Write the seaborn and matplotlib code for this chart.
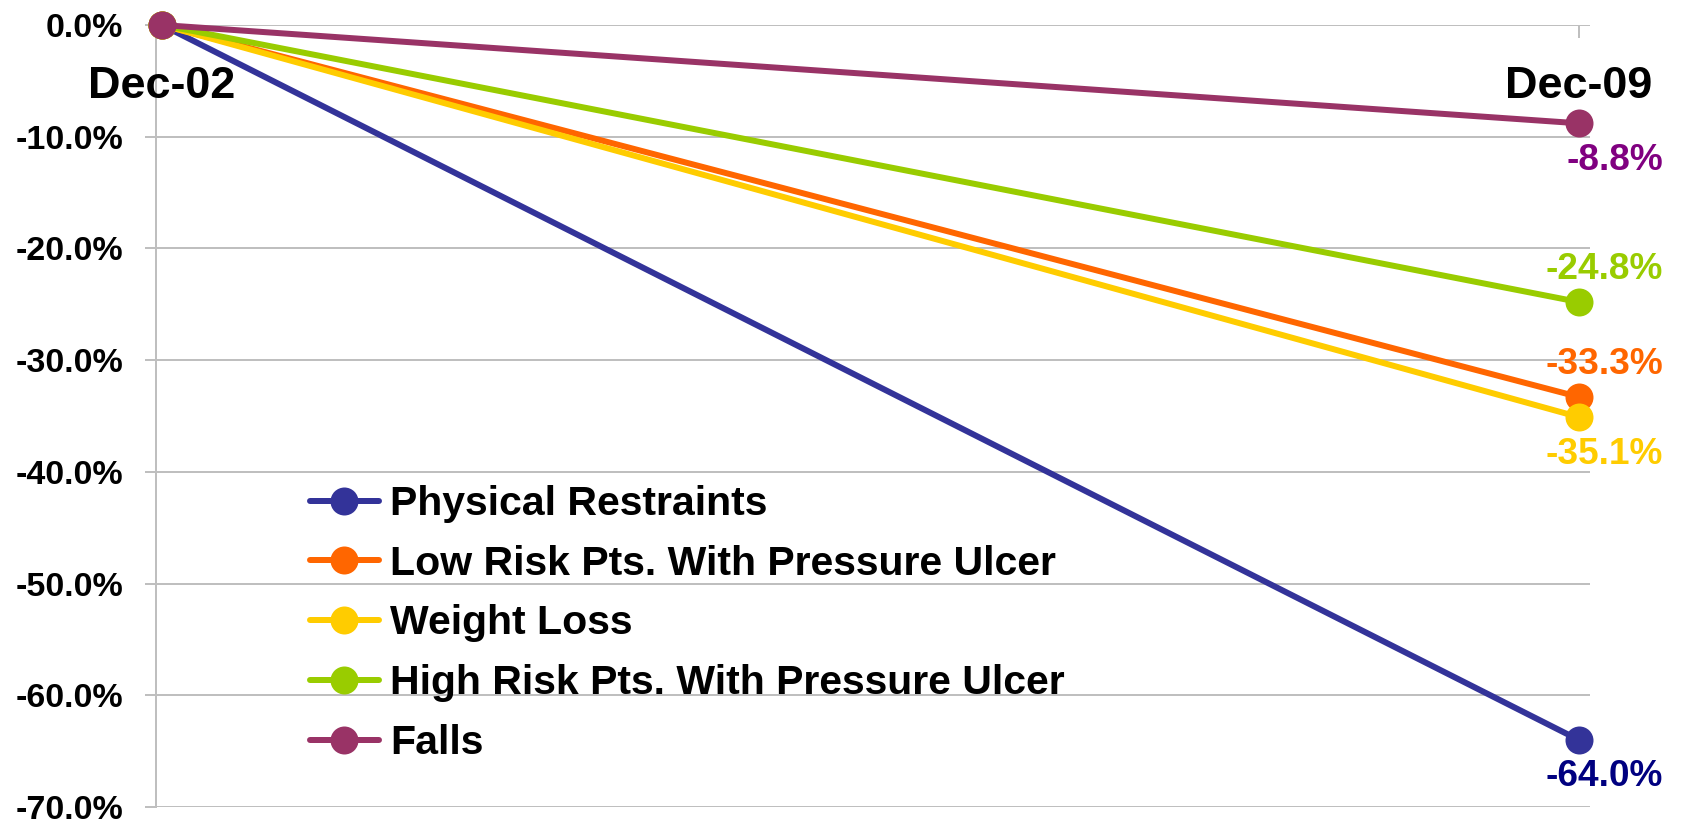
import matplotlib
matplotlib.use("Agg")
import matplotlib.pyplot as plt
from matplotlib.lines import Line2D
import seaborn as sns
import pandas as pd

# Data: percent change in quality indicators between the two survey dates
periods = ["Dec-02", "Dec-09"]
series_names = [
    "Physical Restraints",
    "Low Risk Pts. With Pressure Ulcer",
    "Weight Loss",
    "High Risk Pts. With Pressure Ulcer",
    "Falls",
]
start_values = [0.0, 0.0, 0.0, 0.0, 0.0]
end_values = [-64.0, -33.3, -35.1, -24.8, -8.8]

line_colors = ["#333399", "#FF6600", "#FFCC00", "#99CC00", "#993366"]
label_colors = ["#000080", "#FF6600", "#FFCC00", "#99CC00", "#800080"]
label_side = ["below", "above", "below", "above", "below"]

y_ticks = [0, -10, -20, -30, -40, -50, -60, -70]

rows = []
for name, v0, v1 in zip(series_names, start_values, end_values):
    rows.append({"period": 0, "series": name, "change": v0})
    rows.append({"period": 1, "series": name, "change": v1})
df = pd.DataFrame(rows)

sns.set_theme(style="white")
plt.rcParams["font.family"] = ["Liberation Sans", "DejaVu Sans"]
plt.rcParams["font.weight"] = "bold"
plt.rcParams["text.color"] = "black"

W, H, DPI = 1683, 822, 72
fig = plt.figure(figsize=(W / DPI, H / DPI), dpi=DPI)
ax = fig.add_axes([156 / W, 1 - 807 / H, (1590 - 156) / W, (807 - 25) / H])

grid_color = "#BFBFBF"
palette = dict(zip(series_names, line_colors))
LW, MS = 6, 28

sns.lineplot(
    data=df, x="period", y="change", hue="series", hue_order=series_names,
    palette=palette, marker="o", markersize=MS, markeredgewidth=0,
    linewidth=LW, legend=False, ax=ax, clip_on=False, zorder=3,
)

ax.set_xlim(-0.0042, 1.0078)
ax.set_ylim(-70, 0)
ax.set_xlabel("")
ax.set_ylabel("")

# Horizontal gridlines
ax.set_yticks(y_ticks)
ax.set_yticklabels([f"{t:.1f}%" for t in y_ticks])
ax.yaxis.grid(True, color=grid_color, linewidth=2)
ax.xaxis.grid(False)
ax.set_axisbelow(True)

for side in ["right", "bottom", "top"]:
    ax.spines[side].set_visible(False)
ax.spines["left"].set_color(grid_color)
ax.spines["left"].set_linewidth(2)

ax.tick_params(axis="y", which="both", left=True, length=11, width=2,
               color=grid_color, labelsize=34, pad=22, labelcolor="black")

# Category axis sits at the top (y = 0) with ticks pointing down
ax.xaxis.set_ticks_position("top")
ax.set_xticks([0, 1])
ax.tick_params(axis="x", which="both", top=True, direction="in", length=13,
               width=2, color=grid_color, labeltop=False, labelbottom=False)

for i, p in enumerate(periods):
    ax.text(i, 1 - 62 / 782, p, transform=ax.get_xaxis_transform(),
            ha="center", va="center", fontsize=45, fontweight="bold",
            color="black")

# Value labels at the end points
for name, v, col, side in zip(series_names, end_values, label_colors, label_side):
    dy = 33 if side == "above" else -37
    ax.annotate(f"{v:.1f}%", xy=(1, v), xytext=(84, dy),
                textcoords="offset points", ha="right", va="center",
                fontsize=37, fontweight="bold", color=col, annotation_clip=False)

handles = [
    Line2D([0], [0], color=c, linewidth=LW, marker="o", markersize=MS,
           markeredgewidth=0)
    for c in line_colors
]
fig.legend(
    handles, series_names, loc="upper left",
    bbox_to_anchor=(310 / W, 1 - 485 / H), bbox_transform=fig.transFigure,
    frameon=False, prop={"weight": "bold", "size": 41}, labelcolor="black",
    handlelength=1.68, handletextpad=0.28, labelspacing=0.53,
    borderpad=0, borderaxespad=0,
)

fig.savefig("out.png", dpi=DPI, facecolor="white")
